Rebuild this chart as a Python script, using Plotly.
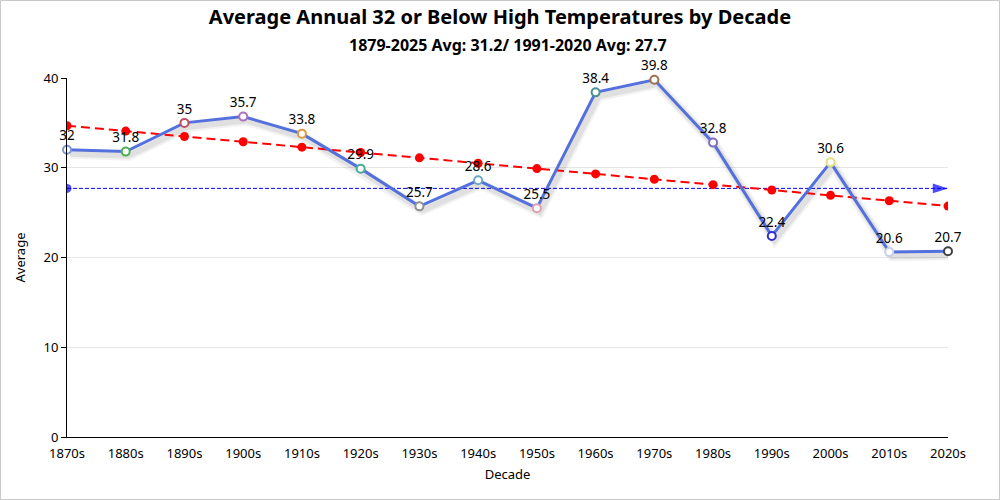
import numpy as np
import plotly.graph_objects as go

decades = ["1870s", "1880s", "1890s", "1900s", "1910s", "1920s", "1930s", "1940s",
           "1950s", "1960s", "1970s", "1980s", "1990s", "2000s", "2010s", "2020s"]
averages = [32, 31.8, 35, 35.7, 33.8, 29.9, 25.7, 28.6, 25.5, 38.4, 39.8, 32.8,
            22.4, 30.6, 20.6, 20.7]
marker_colors = ["#7b96d9", "#4caf50", "#c0506a", "#b070c0", "#e09a40", "#4aaa9a",
                 "#909090", "#70a8c0", "#e0a0b0", "#4a9090", "#a07050", "#8070c0",
                 "#3030d0", "#e0e080", "#c8d0e8", "#404040"]
normal_1991_2020 = 27.7
title_text = "Average Annual 32 or Below High Temperatures by Decade"
subtitle_text = "1879-2025 Avg: 31.2/ 1991-2020 Avg: 27.7"

x = np.arange(len(decades))
slope, intercept = np.polyfit(x, averages, 1)
trend = slope * x + intercept

FONT = "Noto Sans"
fig = go.Figure()

# soft shadow under the main line (two faint layers)
for w, a in [(10, 0.05), (6, 0.07)]:
    fig.add_trace(go.Scatter(
        x=x + 0.05, y=np.array(averages) - 0.45, mode="lines",
        line=dict(color=f"rgba(0,0,0,{a})", width=w), hoverinfo="skip", showlegend=False))

# 1991-2020 average line
fig.add_trace(go.Scatter(
    x=[x[0], x[-1]], y=[normal_1991_2020, normal_1991_2020], mode="lines+markers",
    line=dict(color="#0000ff", width=1, dash="4px,2px"),
    marker=dict(symbol=["circle", "arrow"], angle=[0, 90], size=[9, 16], color="#0000ff",
                line=dict(width=0)),
    showlegend=False))

# trend line
fig.add_trace(go.Scatter(
    x=x, y=trend, mode="lines+markers",
    line=dict(color="#ff0000", width=2, dash="9px,5px"),
    marker=dict(color="#ff0000", size=9),
    showlegend=False))

# main series
fig.add_trace(go.Scatter(
    x=x, y=averages, mode="lines+markers+text",
    text=[f"{v:g}" for v in averages], textposition="top center",
    textfont=dict(family=FONT, size=13.5, color="#000000"),
    line=dict(color="#5470dc", width=3),
    marker=dict(size=8, color="#ffffff", line=dict(color=marker_colors, width=2)),
    cliponaxis=False, showlegend=False))

fig.update_layout(
    width=1000, height=500,
    margin=dict(l=67, r=52, t=78, b=63),
    paper_bgcolor="#ffffff", plot_bgcolor="#ffffff",
    font=dict(family=FONT, size=13, color="#000000"),
    title=dict(text=f"<b>{title_text}</b>", x=0.5, xanchor="center", y=0.966, yanchor="middle",
               font=dict(family=FONT, size=20, color="#000000")),
    xaxis=dict(range=[0, 15], tickmode="array", tickvals=x, ticktext=decades,
               showgrid=False, showline=True, linecolor="#000000", linewidth=1,
               ticks="", zeroline=False, ticklabelstandoff=4,
               title=dict(text="Decade", font=dict(size=13), standoff=9)),
    yaxis=dict(range=[0, 40], tickvals=[0, 10, 20, 30, 40], showgrid=True,
               gridcolor="#e6e6e6", showline=True, linecolor="#000000", linewidth=1,
               ticks="outside", ticklen=5, tickcolor="#000000", zeroline=False,
               title=dict(text="Average", font=dict(size=13), standoff=14)),
    annotations=[dict(text=f"<b>{subtitle_text}</b>", xref="paper", yref="paper",
                      x=0.5, y=1 + 33 / 359, xanchor="center", yanchor="middle",
                      showarrow=False, font=dict(family=FONT, size=16, color="#000000"))],
    shapes=[dict(type="rect", xref="paper", yref="paper",
                 x0=-66.5 / 881, x1=1 + 51.5 / 881, y0=-62.5 / 359, y1=1 + 77.5 / 359,
                 line=dict(color="#c8c8c8", width=1), layer="below")],
)

fig.write_html("out.html", config={"displayModeBar": False},
               post_script="document.body.style.margin='0';document.body.style.overflow='hidden';")
